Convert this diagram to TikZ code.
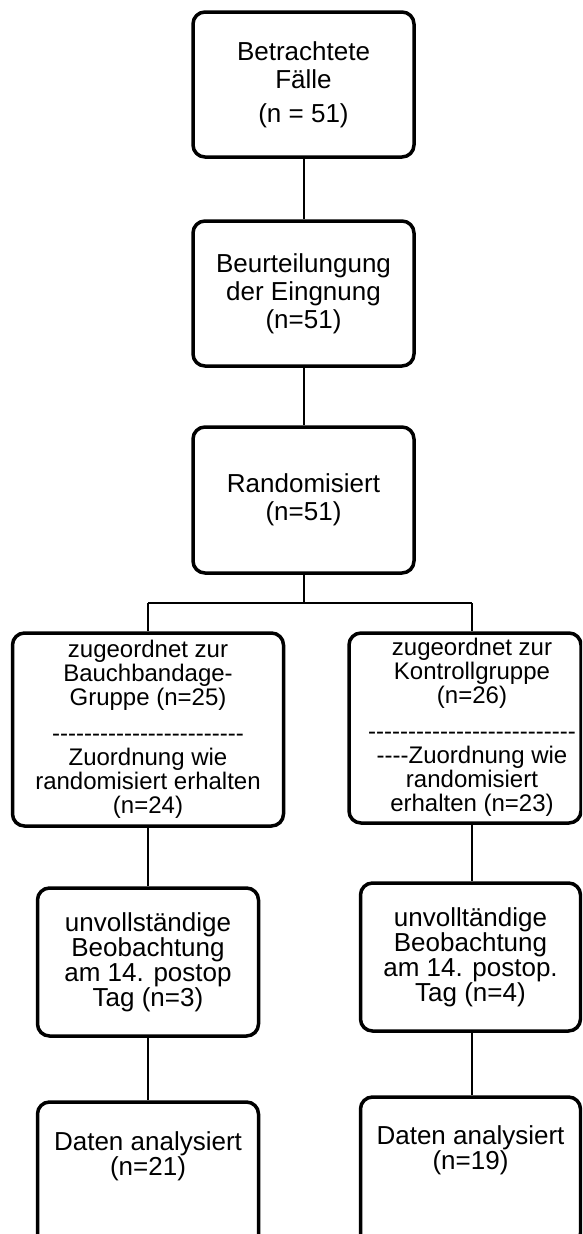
\documentclass[tikz,border=0pt]{standalone}
\usepackage{fontspec}
\setmainfont{Liberation Sans}
\newcommand\dashrun[1]{\foreach\i in {1,...,#1}{-\kern0pt}}
\tikzset{
  box/.style={draw, line width=3.5pt, rounded corners=12pt, inner sep=0pt, fill=white},
  txt/.style={inner sep=0pt, align=center, font=\fontsize{26}{28}\selectfont},
  txtmid/.style={inner sep=0pt, align=center, font=\fontsize{26}{25}\selectfont},
  txtsmall/.style={inner sep=0pt, align=center, font=\fontsize{24}{24}\selectfont},
  link/.style={line width=2pt},
}
\begin{document}
\begin{tikzpicture}[x=1pt,y=-1pt]
\useasboundingbox (0,0) rectangle (582,1234);
\clip (0,0) rectangle (582,1234);
% connectors' fixed points
\coordinate (split) at (303.5,603);
\coordinate (sl) at (148,603);
\coordinate (sr) at (472,603);
% boxes
\node[box, minimum width=221pt, minimum height=145pt] (b1) at (303.5,84.5) {};
\node[box, minimum width=221pt, minimum height=145pt] (b2) at (303.5,293.5) {};
\node[box, minimum width=221pt, minimum height=146pt] (b3) at (303.5,500) {};
\node[box, minimum width=271pt, minimum height=193pt] (b4l) at (148,729.5) {};
\node[box, minimum width=232pt, minimum height=190pt] (b4r) at (465,728) {};
\node[box, minimum width=221pt, minimum height=148pt] (b5l) at (148,962) {};
\node[box, minimum width=220pt, minimum height=148pt] (b5r) at (470.5,957) {};
\node[box, minimum width=221pt, minimum height=148pt] (b6l) at (148,1176) {};
\node[box, minimum width=220pt, minimum height=148pt] (b6r) at (470.5,1171) {};
% connectors
\draw[link] (b1.south) -- (b2.north);
\draw[link] (b2.south) -- (b3.north);
\draw[link] (b3.south) -- (split);
\draw[link] (sl) -- (sr);
\draw[link] (sl) -- (sl |- b4l.north);
\draw[link] (sr) -- (sr |- b4r.north);
\draw[link] (b4l.south) -- (b5l.north);
\draw[link] (sr |- b4r.south) -- (sr |- b5r.north);
\draw[link] (b5l.south) -- (b6l.north);
\draw[link] (sr |- b5r.south) -- (sr |- b6r.north);
% texts
\node[txt] (t1) at (b1) {Betrachtete\\Fälle\\[6pt](n = 51)};
\node[txt] (t2) at (b2) {Beurteilungung\\der Eingnung\\(n=51)};
\node[txt] (t3) at (b3) {Randomisiert\\(n=51)};
\node[txtsmall] (t4l) at (148,729) {zugeordnet zur\\Bauchbandage-\\Gruppe (n=25)\\[12pt]\dashrun{24}\\Zuordnung wie\\randomisiert erhalten\\(n=24)};
\node[txtsmall] (t4r) at (472,727) {zugeordnet zur\\Kontrollgruppe\\(n=26)\\[12pt]\dashrun{26}\\\dashrun{4}Zuordnung wie\\randomisiert\\erhalten (n=23)};
\node[txtmid] (t5l) at (b5l) {unvollständige\\Beobachtung\\am 14. postop\\Tag (n=3)};
\node[txtmid] (t5r) at (b5r) {unvolltändige\\Beobachtung\\am 14. postop.\\Tag (n=4)};
\node[txtmid] (t6l) at (148,1156) {Daten analysiert\\(n=21)};
\node[txtmid] (t6r) at (470.5,1150) {Daten analysiert\\(n=19)};
\end{tikzpicture}
\end{document}
